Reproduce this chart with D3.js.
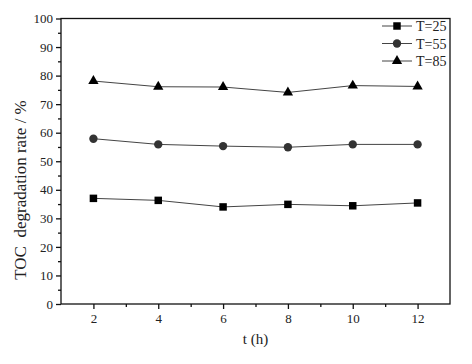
<!DOCTYPE html>
<html>
<head>
<meta charset="utf-8">
<script src="https://cdn.jsdelivr.net/npm/d3@7"></script>
<style>
  body { margin: 0; background: #fff; }
</style>
</head>
<body>
<div id="chart"></div>
<script>
const times = [2, 4, 6, 8, 10, 12];
const t25 = [37.0, 36.3, 34.0, 34.9, 34.4, 35.4];
const t55 = [57.9, 55.9, 55.3, 54.9, 55.9, 55.9];
const t85 = [78.1, 76.1, 76.0, 74.1, 76.5, 76.2];
const seriesNames = ['T=25', 'T=55', 'T=85'];
const xTicks = [2, 4, 6, 8, 10, 12];
const yTicks = [0, 10, 20, 30, 40, 50, 60, 70, 80, 90, 100];

const width = 472;
const height = 364;
const margin = { top: 18.5, right: 22, bottom: 60, left: 61 };
const serif = 'Liberation Serif';

const svg = d3.select('#chart').append('svg')
  .attr('width', width)
  .attr('height', height);

const x = d3.scaleLinear().domain([1, 13]).range([margin.left, width - margin.right]);
const y = d3.scaleLinear().domain([0, 100]).range([height - margin.bottom, margin.top]);

// frame
svg.append('rect')
  .attr('x', x(1))
  .attr('y', y(100))
  .attr('width', x(13) - x(1))
  .attr('height', y(0) - y(100))
  .style('fill', 'none')
  .style('stroke', '#111')
  .style('stroke-width', 1.3);

// x axis, major + minor ticks
svg.append('g')
  .attr('transform', `translate(0,${y(0)})`)
  .call(d3.axisBottom(x).tickValues(xTicks).tickSize(5).tickPadding(5));
svg.append('g')
  .attr('transform', `translate(0,${y(0)})`)
  .call(d3.axisBottom(x).tickValues([3, 5, 7, 9, 11]).tickSize(3).tickFormat(''));

// y axis
svg.append('g')
  .attr('transform', `translate(${x(1)},0)`)
  .call(d3.axisLeft(y).tickValues(yTicks).tickSize(5).tickPadding(3));
svg.append('g')
  .attr('transform', `translate(${x(1)},0)`)
  .call(d3.axisLeft(y).tickValues(d3.range(5, 100, 10)).tickSize(3).tickFormat(''));

svg.selectAll('.domain').remove();
svg.selectAll('.tick line').style('stroke', '#111').style('stroke-width', 1.3);
svg.selectAll('g').attr('font-family', null);
svg.selectAll('.tick text')
  .style('font-family', serif)
  .style('font-size', '13px')
  .style('fill', '#222');

// axis titles
svg.append('text')
  .attr('x', (x(1) + x(13)) / 2)
  .attr('y', 344)
  .attr('text-anchor', 'middle')
  .style('font-family', serif)
  .style('font-size', '15px')
  .style('fill', '#222')
  .text('t (h)');

svg.append('text')
  .attr('transform', 'translate(26,190) rotate(-90)')
  .attr('text-anchor', 'middle')
  .style('font-family', serif)
  .style('font-size', '17px')
  .style('fill', '#222')
  .style('white-space', 'pre')
  .text('TOC  degradation rate / %');

const symbols = [d3.symbolSquare, d3.symbolCircle, d3.symbolTriangle];
const symbolSizes = [56, 55, 46];
const markerColors = ['#000', '#333', '#000'];
const seriesData = [t25, t55, t85];

const line = d3.line()
  .x((d, i) => x(times[i]))
  .y((d) => y(d));

seriesData.forEach((values, k) => {
  svg.append('path')
    .datum(values)
    .attr('d', line)
    .style('fill', 'none')
    .style('stroke', '#444')
    .style('stroke-width', 1);

  svg.selectAll(`.m${k}`)
    .data(values)
    .enter().append('path')
    .attr('class', `m${k}`)
    .attr('transform', (d, i) => `translate(${x(times[i])},${y(d)})`)
    .attr('d', d3.symbol().type(symbols[k]).size(symbolSizes[k]))
    .style('fill', markerColors[k]);
});

// legend
const legend = svg.append('g');
seriesNames.forEach((name, k) => {
  const ly = 26 + k * 17.5;
  legend.append('line')
    .attr('x1', 382).attr('x2', 412)
    .attr('y1', ly).attr('y2', ly)
    .style('stroke', '#444')
    .style('stroke-width', 1);
  legend.append('path')
    .attr('transform', `translate(397,${ly})`)
    .attr('d', d3.symbol().type(symbols[k]).size(symbolSizes[k]))
    .style('fill', markerColors[k]);
  legend.append('text')
    .attr('x', 416)
    .attr('y', ly + 5)
    .style('font-family', serif)
    .style('font-size', '14px')
    .style('fill', '#222')
    .text(name);
});
</script>
</body>
</html>
